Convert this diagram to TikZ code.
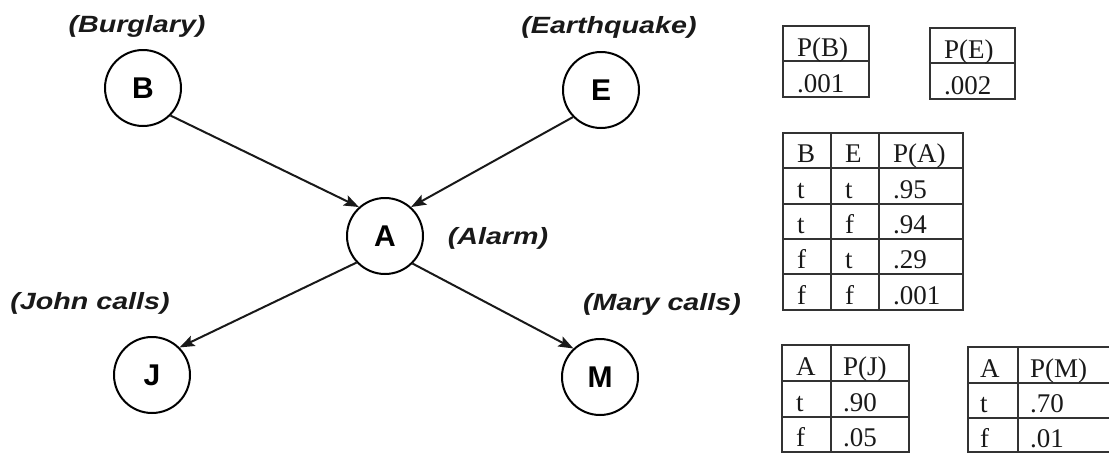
\documentclass[tikz,border=0pt]{standalone}
\usepackage{fontspec}
\setmainfont{Liberation Serif}
\newfontfamily\lblfont[FakeStretch=1.22]{Liberation Sans}
\newfontfamily\varfont{Liberation Sans}
\usetikzlibrary{arrows.meta}
\begin{document}
\begin{tikzpicture}[x=1pt,y=-1pt,
  var/.style={circle,draw,line width=2pt,minimum size=76pt,inner sep=0pt,
    font=\varfont\bfseries\fontsize{30}{30}\selectfont},
  lbl/.style={font=\lblfont\bfseries\itshape\fontsize{23.5}{24}\selectfont,
    text=black!90,inner sep=0pt},
  edge/.style={line width=2pt,black!90,
    -{Stealth[length=15pt,width=11pt,inset=3pt]}},
  grid/.style={line width=1.5pt,black!80},
  cell/.style={anchor=base west,inner sep=0pt,
    font=\fontsize{27}{27}\selectfont,text=black!90}]
\useasboundingbox (0,0) rectangle (1109,453);

% network nodes
\node[var] (B) at (143,88) {B};
\node[var] (E) at (601,90) {E};
\node[var] (A) at (385,236) {A};
\node[var] (J) at (152,375) {J};
\node[var] (M) at (600,377) {M};

% node captions
\node[lbl] (lB) at (137,26) {(Burglary)};
\node[lbl] (lE) at (609,27) {(Earthquake)};
\node[lbl] (lA) at (498,238) {(Alarm)};
\node[lbl] (lJ) at (90,303) {(John calls)};
\node[lbl] (lM) at (662,304) {(Mary calls)};

% dependencies
\draw[edge] (B.-45) -- (A.132);
\draw[edge] (E.-136) -- (A.48);
\draw[edge] (A.-137) -- (J.45);
\draw[edge] (A.-45) -- (M.133);

% P(B)
\draw[grid] (783,26) rectangle (869,97) (783,61) -- (869,61);
\node[cell] (pb1) at (797,56) {P(B)};
\node[cell] (pb2) at (797,92) {.001};

% P(E)
\draw[grid] (930,28) rectangle (1015,99) (930,63) -- (1015,63);
\node[cell] (pe1) at (944,58) {P(E)};
\node[cell] (pe2) at (944,94) {.002};

% P(A | B, E)
\draw[grid] (783,133) rectangle (963,310);
\draw[grid] (831,133) -- (831,310) (879,133) -- (879,310);
\foreach \yy in {168,204,239,274} \draw[grid] (783,\yy) -- (963,\yy);
\node[cell] (a11) at (797,162) {B};
\node[cell] (a12) at (845,162) {E};
\node[cell] (a13) at (893,162) {P(A)};
\node[cell] (a21) at (797,198) {t};
\node[cell] (a22) at (845,198) {t};
\node[cell] (a23) at (893,198) {.95};
\node[cell] (a31) at (797,233) {t};
\node[cell] (a32) at (845,233) {f};
\node[cell] (a33) at (893,233) {.94};
\node[cell] (a41) at (797,268) {f};
\node[cell] (a42) at (845,268) {t};
\node[cell] (a43) at (893,268) {.29};
\node[cell] (a51) at (797,304) {f};
\node[cell] (a52) at (845,304) {f};
\node[cell] (a53) at (893,304) {.001};

% P(J | A)
\draw[grid] (782,345) rectangle (909,452);
\draw[grid] (831,345) -- (831,452);
\draw[grid] (782,381) -- (909,381) (782,417) -- (909,417);
\node[cell] (j11) at (796,375) {A};
\node[cell] (j12) at (843,375) {P(J)};
\node[cell] (j21) at (796,411) {t};
\node[cell] (j22) at (843,411) {.90};
\node[cell] (j31) at (796,446) {f};
\node[cell] (j32) at (843,446) {.05};

% P(M | A)
\draw[grid] (1109,347) -- (968,347) -- (968,452) -- (1109,452);
\draw[grid] (1018,347) -- (1018,452);
\draw[grid] (968,383) -- (1109,383) (968,418) -- (1109,418);
\node[cell] (m11) at (980,377) {A};
\node[cell] (m12) at (1030,377) {P(M)};
\node[cell] (m21) at (980,412) {t};
\node[cell] (m22) at (1030,412) {.70};
\node[cell] (m31) at (980,447) {f};
\node[cell] (m32) at (1030,447) {.01};
\end{tikzpicture}
\end{document}
